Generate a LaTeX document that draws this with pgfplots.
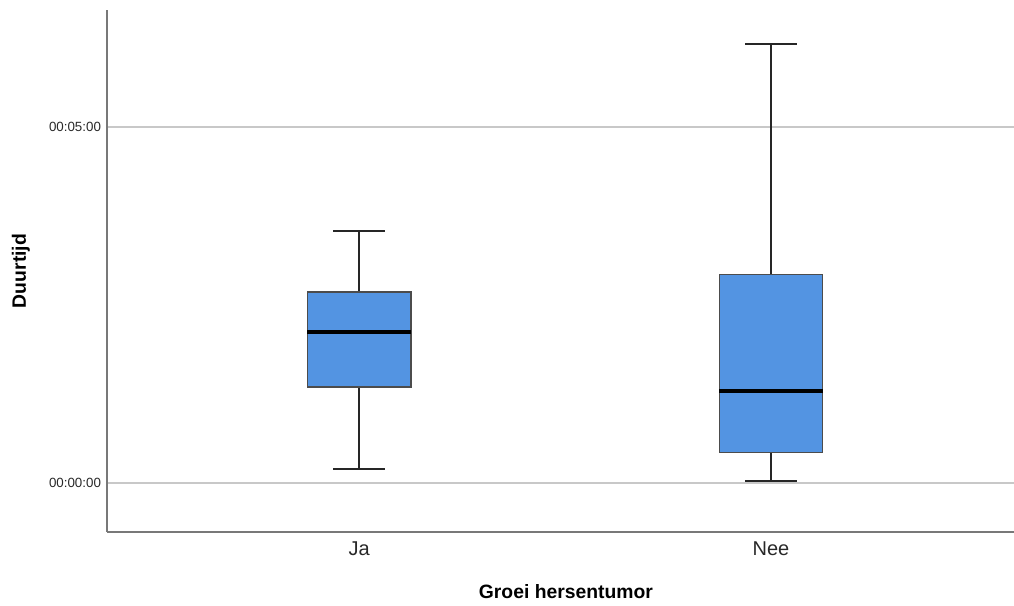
\documentclass[border=0pt]{standalone}
\usepackage{fontspec}
\setmainfont{Liberation Sans}
\usepackage{pgfplots}
\pgfplotsset{compat=1.18}
\definecolor{boxblue}{RGB}{83,148,226}
\definecolor{gridgray}{RGB}{200,200,200}
\definecolor{axgray}{RGB}{120,120,120}
\definecolor{txtgray}{RGB}{40,40,40}
\begin{document}
\begin{tikzpicture}
\begin{axis}[
  scale only axis,
  width=680.25pt, height=391.5pt,
  at={(0,0)}, anchor=south west,
  xmin=0.388, xmax=2.59,
  ymin=-41.3, ymax=398.7,
  axis lines*=left,
  axis line style={draw=axgray, line width=0.9pt},
  xtick={1,2}, xticklabels={Ja,Nee},
  ytick={0,300}, yticklabels={00:00:00,00:05:00},
  tick style={draw=none},
  ymajorgrids, grid style={gridgray, line width=0.9pt},
  xticklabel style={font=\fontsize{15}{18}\selectfont, text=txtgray, yshift=-4pt},
  yticklabel style={font=\fontsize{10}{12}\selectfont, text=txtgray, xshift=-1pt},
  xlabel={Groei hersentumor},
  ylabel={Duurtijd},
  xlabel style={font=\fontsize{14.5}{17}\selectfont\bfseries, at={(axis description cs:0.506,0)}, anchor=center, yshift=-45pt},
  ylabel style={font=\fontsize{14.5}{17}\selectfont\bfseries, at={(axis description cs:0,0.5)}, anchor=center, yshift=64.5pt},
  whisk/.style={draw=black!85, line width=1.3pt, mark=none},
  box/.style={fill=boxblue, draw=black!70, line width=0.8pt, mark=none, line join=miter},
  med/.style={draw=black, line width=2.4pt, mark=none},
]
% Ja: lower whisker 11.8, Q1 80.9, median 127.3, Q3 161.0, upper whisker 212.4
\addplot[whisk] coordinates {(1,161.0) (1,212.4)};
\addplot[whisk] coordinates {(0.937,212.4) (1.063,212.4)};
\addplot[whisk] coordinates {(1,80.9) (1,11.8)};
\addplot[whisk] coordinates {(0.937,11.8) (1.063,11.8)};
\addplot[box] coordinates {(0.874,80.9) (1.126,80.9) (1.126,161.0) (0.874,161.0)} -- cycle;
\addplot[med] coordinates {(0.874,127.3) (1.126,127.3)};
% Nee: lower whisker 1.7, Q1 26.1, median 77.5, Q3 176.1, upper whisker 370.0
\addplot[whisk] coordinates {(2,176.1) (2,370.0)};
\addplot[whisk] coordinates {(1.937,370.0) (2.063,370.0)};
\addplot[whisk] coordinates {(2,26.1) (2,1.7)};
\addplot[whisk] coordinates {(1.937,1.7) (2.063,1.7)};
\addplot[box] coordinates {(1.874,26.1) (2.126,26.1) (2.126,176.1) (1.874,176.1)} -- cycle;
\addplot[med] coordinates {(1.874,77.5) (2.126,77.5)};
\end{axis}
\pgfresetboundingbox
\path (-80.25pt,-55.5pt) rectangle (680.25pt,399pt);
\end{tikzpicture}
\end{document}
